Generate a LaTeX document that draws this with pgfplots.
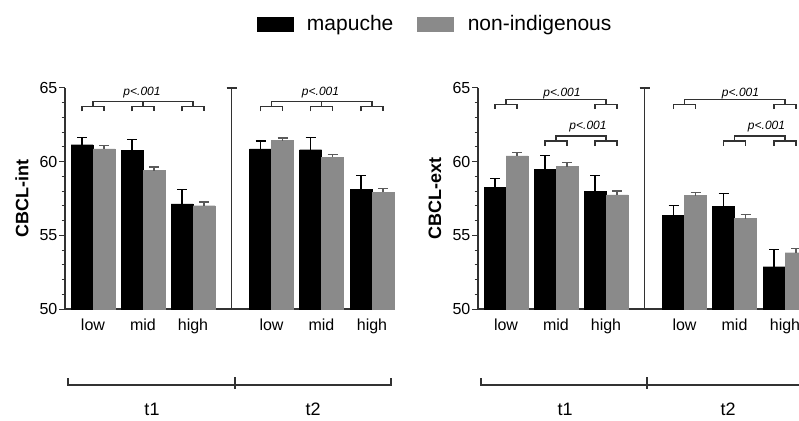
\documentclass[border=0pt]{standalone}
\usepackage{fontspec}
\setmainfont{Liberation Sans}
\usepackage{pgfplots}
\pgfplotsset{compat=1.18}
\usepackage{pgfplotstable}
\definecolor{bargray}{RGB}{138,138,138}
\definecolor{axgray}{RGB}{50,50,50}

\pgfplotstableread{
x b eb g eg
0    61.15 0.50 60.86 0.23
1    60.75 0.75 59.39 0.25
2    57.13 1.00 57.01 0.25
3.57 60.86 0.55 61.43 0.17
4.57 60.81 0.83 60.29 0.20
5.58 58.10 0.95 57.92 0.25
}\intdata

\pgfplotstableread{
x b eb g eg
0    58.26 0.60 60.40 0.22
1    59.50 0.90 59.66 0.29
2    58.00 1.05 57.75 0.25
3.57 56.35 0.68 57.70 0.23
4.57 56.96 0.90 56.13 0.27
5.58 52.87 1.17 53.82 0.29
}\extdata

\tikzset{annot/.style={line width=1.1pt, draw=axgray}}
\newcommand\smallbr[3]{% center, y horizontal, y ends
  \draw[annot] ([xshift=-11pt]axis cs:#1,#3) -- ([xshift=-11pt]axis cs:#1,#2) -- ([xshift=11pt]axis cs:#1,#2) -- ([xshift=11pt]axis cs:#1,#3);}
\newcommand\pset[7]{% c1, c2, ybr, yend, ytop, xtext, ytext
  \smallbr{#1}{#3}{#4}\smallbr{#2}{#3}{#4}
  \draw[annot] (axis cs:#1,#3) -- (axis cs:#1,#5) -- (axis cs:#2,#5) -- (axis cs:#2,#3);
  \node[font=\itshape\fontsize{12}{14}\selectfont] at (axis cs:#6,#7) {p<.001};}

\pgfplotsset{
  panel/.style={
    scale only axis, width=328pt, height=221pt,
    xmin=-0.56, xmax=6.0, ymin=50, ymax=65,
    axis lines=left, axis line style={-, line width=1.1pt, draw=axgray},
    ytick={50,55,60,65}, minor y tick num=4,
    tick align=outside,
    major tick length=6pt, minor tick length=3.5pt,
    tick style={line width=1pt, draw=axgray},
    xtick={0,1,2,3.57,4.57,5.58}, xticklabels={low,mid,high,low,mid,high},
    x tick style={draw=none},
    xticklabel style={font=\fontsize{16}{18}\selectfont},
    yticklabel style={font=\fontsize{16}{18}\selectfont, inner sep=1.5pt},
    /pgf/number format/assume math mode=true,
    ybar=0pt, bar width=22pt,
    clip=false,
    ylabel style={font=\bfseries\fontsize{18}{20}\selectfont, at={(axis description cs:-0.131,0.5)}, anchor=center},
  },
  blackbar/.style={fill=black, draw=black,
    legend image code/.code={\fill[black] (0pt,-7pt) rectangle (36pt,7pt);},
    error bars/.cd, y dir=plus, y explicit, error mark=|,
    error bar style={line width=1.3pt, draw=black},
    error mark options={line width=1.3pt, mark size=5pt, draw=black}},
  graybar/.style={fill=bargray, draw=bargray,
    legend image code/.code={\fill[bargray] (0pt,-7pt) rectangle (36pt,7pt);},
    error bars/.cd, y dir=plus, y explicit, error mark=|,
    error bar style={line width=1.3pt, draw=bargray!65!black},
    error mark options={line width=1.3pt, mark size=5pt, draw=bargray!65!black}},
}

\begin{document}
\begin{tikzpicture}
% left panel
\begin{axis}[panel, at={(65pt,111pt)}, anchor=south west, ylabel={CBCL-int},
  legend columns=2,
  legend style={at={(1.128,1.29)}, anchor=center, draw=none, fill=none,
    font=\fontsize{21}{24}\selectfont,
    /tikz/every odd column/.append style={column sep=12pt},
    /tikz/every even column/.append style={column sep=22pt}}]
\addplot[blackbar] table[x=x, y=b, y error=eb]{\intdata};
\addplot[graybar] table[x=x, y=g, y error=eg]{\intdata};
\legend{mapuche, non-indigenous}
\draw[annot] (axis cs:2.77,50) -- (axis cs:2.77,65);
\draw[annot] ([xshift=-5pt]axis cs:2.77,65) -- ([xshift=5pt]axis cs:2.77,65);
% t1
\pset{0}{2}{63.76}{63.42}{64.07}{0.98}{64.66}
\smallbr{1}{63.76}{63.42}
\draw[annot] (axis cs:1,63.76) -- (axis cs:1,64.07);
% t2
\pset{3.57}{5.58}{63.76}{63.42}{64.07}{4.55}{64.66}
\smallbr{4.57}{63.76}{63.42}
\draw[annot] (axis cs:4.57,63.76) -- (axis cs:4.57,64.07);
\end{axis}
% right panel
\begin{axis}[panel, at={(478pt,111pt)}, anchor=south west, ylabel={CBCL-ext}]
\addplot[blackbar] table[x=x, y=b, y error=eb]{\extdata};
\addplot[graybar] table[x=x, y=g, y error=eg]{\extdata};
\draw[annot] (axis cs:2.77,50) -- (axis cs:2.77,65);
\draw[annot] ([xshift=-5pt]axis cs:2.77,65) -- ([xshift=5pt]axis cs:2.77,65);
\pset{0}{2}{63.90}{63.56}{64.24}{1.12}{64.64}
\pset{1}{2}{61.40}{61.06}{61.74}{1.64}{62.40}
\pset{3.57}{5.58}{63.90}{63.56}{64.24}{4.69}{64.64}
\pset{4.57}{5.58}{61.40}{61.06}{61.74}{5.21}{62.40}
\end{axis}
% bottom time brackets
\draw[annot] (68pt,42pt) -- (68pt,35pt) -- (391pt,35pt) -- (391pt,42pt);
\draw[annot] (235pt,31pt) -- (235pt,43pt);
\draw[annot] (481pt,42pt) -- (481pt,35pt) -- (806pt,35pt) -- (806pt,42pt);
\draw[annot] (647pt,31pt) -- (647pt,43pt);
\node[font=\fontsize{18}{20}\selectfont] at (152pt,11pt) {t1};
\node[font=\fontsize{18}{20}\selectfont] at (313pt,11pt) {t2};
\node[font=\fontsize{18}{20}\selectfont] at (565pt,11pt) {t1};
\node[font=\fontsize{18}{20}\selectfont] at (728pt,11pt) {t2};
\pgfresetboundingbox
\useasboundingbox (0pt,0pt) rectangle (799pt,420pt);
\end{tikzpicture}
\end{document}
